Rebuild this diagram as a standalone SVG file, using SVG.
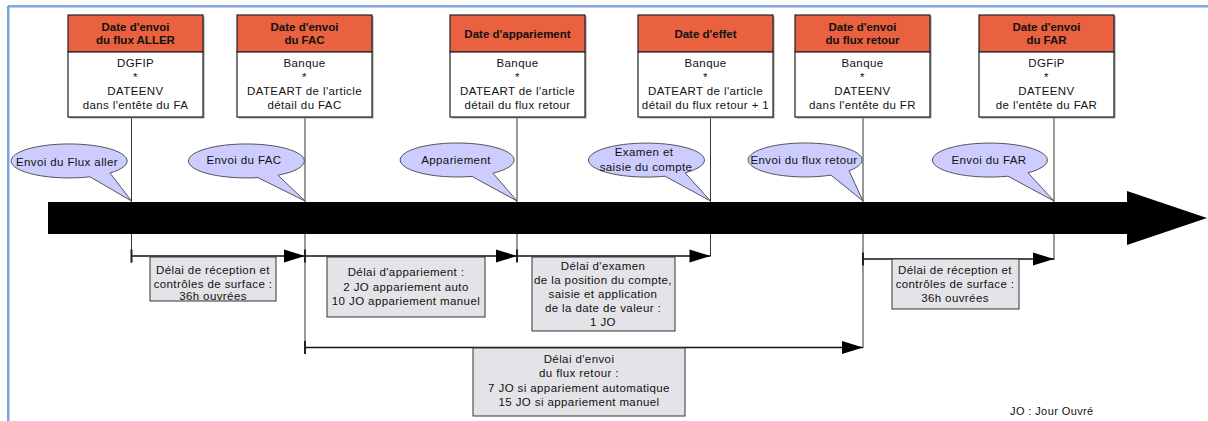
<svg xmlns="http://www.w3.org/2000/svg" width="1208" height="421" viewBox="0 0 1208 421">
<style>
  .t{font-family:"Liberation Sans",Arial,sans-serif;font-size:11.5px;fill:#111;text-anchor:middle;letter-spacing:0.4px}
  .b{font-weight:bold;letter-spacing:0}
  .hdr{fill:#E9613F;stroke:#222;stroke-width:1.2}
  .body{fill:#fff;stroke:#222;stroke-width:1.2}
  .shadow{fill:#9a9a9a}
  .callout{fill:#CCCCFF;stroke:#555;stroke-width:1}
  .gbox{fill:#E4E4E8;stroke:#333;stroke-width:1}
  .vline{stroke:#333;stroke-width:1;fill:none}
  .span{stroke:#111;stroke-width:1.5;fill:none;marker-start:url(#tick);marker-end:url(#head)}
</style>
<defs>
  <marker id="head" markerUnits="userSpaceOnUse" markerWidth="22" markerHeight="14" refX="21" refY="6.5" orient="auto" overflow="visible">
    <path d="M0,0 L21,6.5 L0,13 Z" fill="#000"/>
  </marker>
  <marker id="tick" markerUnits="userSpaceOnUse" markerWidth="4" markerHeight="14" refX="1" refY="6.5" orient="auto" overflow="visible">
    <rect x="0" y="0" width="2" height="13" fill="#222"/>
  </marker>
</defs>

<!-- frame -->
<g id="frame">
  <line x1="8" y1="6" x2="1208" y2="6" stroke="#5B8BD3" stroke-width="1.6"/>
  <line x1="8" y1="7.5" x2="1208" y2="7.5" stroke="#B7CEF0" stroke-width="1"/>
  <line x1="8" y1="6" x2="8" y2="421" stroke="#5B8BD3" stroke-width="1.6"/>
  <line x1="9.5" y1="7" x2="9.5" y2="421" stroke="#B7CEF0" stroke-width="1"/>
</g>

<!-- connectors -->
<g id="connectors">
  <line class="vline" x1="131.5" y1="117" x2="131.5" y2="263"/>
  <line class="vline" x1="305" y1="117" x2="305" y2="353"/>
  <line class="vline" x1="517" y1="117" x2="517" y2="262"/>
  <line class="vline" x1="710.5" y1="117" x2="710.5" y2="256"/>
  <line class="vline" x1="863" y1="117" x2="863" y2="348"/>
  <line class="vline" x1="1054" y1="117" x2="1054" y2="260"/>
  <path class="span" d="M131.5,256 L305,256"/>
  <path class="span" d="M305,256 L517,256"/>
  <path class="span" d="M517,256 L710.5,256"/>
  <path class="span" d="M863,259 L1054,259"/>
  <path class="span" d="M305,347.5 L863,347.5"/>
</g>

<!-- timeline arrow -->
<g id="timeline">
  <polygon points="48,202 1127,202 1127,191 1207,218 1127,245 1127,234 48,234" fill="#000"/>
</g>

<!-- top boxes -->
<g id="box-aller">
  <rect class="shadow" x="69.5" y="16.5" width="135" height="102"/>
  <rect class="hdr" x="68" y="15" width="135" height="37"/>
  <rect class="body" x="68" y="52" width="135" height="65"/>
  <text class="t b" x="135.5" y="31">Date d'envoi</text>
  <text class="t b" x="135.5" y="44">du flux ALLER</text>
  <text class="t" x="135.5" y="67">DGFIP</text>
  <text class="t" x="135.5" y="81">*</text>
  <text class="t" x="135.5" y="95">DATEENV</text>
  <text class="t" x="135.5" y="109">dans l'entête du FA</text>
</g>
<g id="box-fac">
  <rect class="shadow" x="238.5" y="16.5" width="135" height="102"/>
  <rect class="hdr" x="237" y="15" width="135" height="37"/>
  <rect class="body" x="237" y="52" width="135" height="65"/>
  <text class="t b" x="304.5" y="31">Date d'envoi</text>
  <text class="t b" x="304.5" y="44">du FAC</text>
  <text class="t" x="304.5" y="67">Banque</text>
  <text class="t" x="304.5" y="81">*</text>
  <text class="t" x="304.5" y="95">DATEART de l'article</text>
  <text class="t" x="304.5" y="109">détail du FAC</text>
</g>
<g id="box-appariement">
  <rect class="shadow" x="451.5" y="16.5" width="135" height="102"/>
  <rect class="hdr" x="450" y="15" width="135" height="37"/>
  <rect class="body" x="450" y="52" width="135" height="65"/>
  <text class="t b" x="517.5" y="37.5">Date d'appariement</text>
  <text class="t" x="517.5" y="67">Banque</text>
  <text class="t" x="517.5" y="81">*</text>
  <text class="t" x="517.5" y="95">DATEART de l'article</text>
  <text class="t" x="517.5" y="109">détail du flux retour</text>
</g>
<g id="box-effet">
  <rect class="shadow" x="639.5" y="16.5" width="135" height="102"/>
  <rect class="hdr" x="638" y="15" width="135" height="37"/>
  <rect class="body" x="638" y="52" width="135" height="65"/>
  <text class="t b" x="705.5" y="37.5">Date d'effet</text>
  <text class="t" x="705.5" y="67">Banque</text>
  <text class="t" x="705.5" y="81">*</text>
  <text class="t" x="705.5" y="95">DATEART de l'article</text>
  <text class="t" x="705.5" y="109">détail du flux retour + 1</text>
</g>
<g id="box-retour">
  <rect class="shadow" x="796.5" y="16.5" width="135" height="102"/>
  <rect class="hdr" x="795" y="15" width="135" height="37"/>
  <rect class="body" x="795" y="52" width="135" height="65"/>
  <text class="t b" x="862.5" y="31">Date d'envoi</text>
  <text class="t b" x="862.5" y="44">du flux retour</text>
  <text class="t" x="862.5" y="67">Banque</text>
  <text class="t" x="862.5" y="81">*</text>
  <text class="t" x="862.5" y="95">DATEENV</text>
  <text class="t" x="862.5" y="109">dans l'entête du FR</text>
</g>
<g id="box-far">
  <rect class="shadow" x="980.5" y="16.5" width="135" height="102"/>
  <rect class="hdr" x="979" y="15" width="135" height="37"/>
  <rect class="body" x="979" y="52" width="135" height="65"/>
  <text class="t b" x="1046.5" y="31">Date d'envoi</text>
  <text class="t b" x="1046.5" y="44">du FAR</text>
  <text class="t" x="1046.5" y="67">DGFiP</text>
  <text class="t" x="1046.5" y="81">*</text>
  <text class="t" x="1046.5" y="95">DATEENV</text>
  <text class="t" x="1046.5" y="109">de l'entête du FAR</text>
</g>

<!-- callouts -->
<g id="callout-aller">
  <path class="callout" d="M90,176.8 L131.5,201 L110,173 A58 17 0 1 0 90,176.8 Z"/>
  <text class="t" x="67" y="166">Envoi du Flux aller</text>
</g>
<g id="callout-fac">
  <path class="callout" d="M258,177.6 L305,201 L278,175.2 A58 17 0 1 0 258,177.6 Z"/>
  <text class="t" x="244" y="164">Envoi du FAC</text>
</g>
<g id="callout-appariement">
  <path class="callout" d="M472,176.4 L517,201 L493,173.2 A57 17 0 1 0 472,176.4 Z"/>
  <text class="t" x="456" y="164">Appariement</text>
</g>
<g id="callout-examen">
  <path class="callout" d="M665,176.2 L710.5,201 L685,172.8 A58 17 0 1 0 665,176.2 Z"/>
  <text class="t" x="644" y="156">Examen et</text>
  <text class="t" x="646" y="171">saisie du compte</text>
</g>
<g id="callout-retour">
  <path class="callout" d="M831,175.1 L863,201 L849,170.8 A57 17 0 1 0 831,175.1 Z"/>
  <text class="t" x="804" y="164">Envoi du flux retour</text>
</g>
<g id="callout-far">
  <path class="callout" d="M1008,176.2 L1054,201 L1028,172.8 A57.5 17 0 1 0 1008,176.2 Z"/>
  <text class="t" x="989" y="164">Envoi du FAR</text>
</g>

<!-- interval boxes -->
<g id="delay-reception-1">
  <rect class="gbox" x="150" y="257" width="126" height="44"/>
  <text class="t" x="213" y="274">Délai de réception et</text>
  <text class="t" x="213" y="287.5">contrôles de surface :</text>
  <text class="t" x="213" y="300">36h ouvrées</text>
</g>
<g id="delay-appariement">
  <rect class="gbox" x="327" y="257" width="158" height="60"/>
  <text class="t" x="406" y="276">Délai d'appariement :</text>
  <text class="t" x="406" y="290.5">2 JO appariement auto</text>
  <text class="t" x="406" y="305">10 JO appariement manuel</text>
</g>
<g id="delay-examen">
  <rect class="gbox" x="532" y="257" width="143" height="74"/>
  <text class="t" x="603" y="270">Délai d'examen</text>
  <text class="t" x="603" y="283.5">de la position du compte,</text>
  <text class="t" x="603" y="297.5">saisie et application</text>
  <text class="t" x="603" y="311.5">de la date de valeur :</text>
  <text class="t" x="603" y="325.5">1 JO</text>
</g>
<g id="delay-reception-2">
  <rect class="gbox" x="892" y="259" width="127" height="50"/>
  <text class="t" x="955" y="274">Délai de réception et</text>
  <text class="t" x="955" y="288">contrôles de surface :</text>
  <text class="t" x="955" y="302">36h ouvrées</text>
</g>
<g id="delay-envoi-retour">
  <rect class="gbox" x="473" y="348" width="212" height="68"/>
  <text class="t" x="579" y="363">Délai d'envoi</text>
  <text class="t" x="579" y="377">du flux retour :</text>
  <text class="t" x="579" y="391.5">7 JO si appariement automatique</text>
  <text class="t" x="579" y="405.5">15 JO si appariement manuel</text>
</g>

<g id="legend">
  <text class="t" x="1010" y="415" style="text-anchor:start;font-size:11px">JO : Jour Ouvré</text>
</g>
</svg>
